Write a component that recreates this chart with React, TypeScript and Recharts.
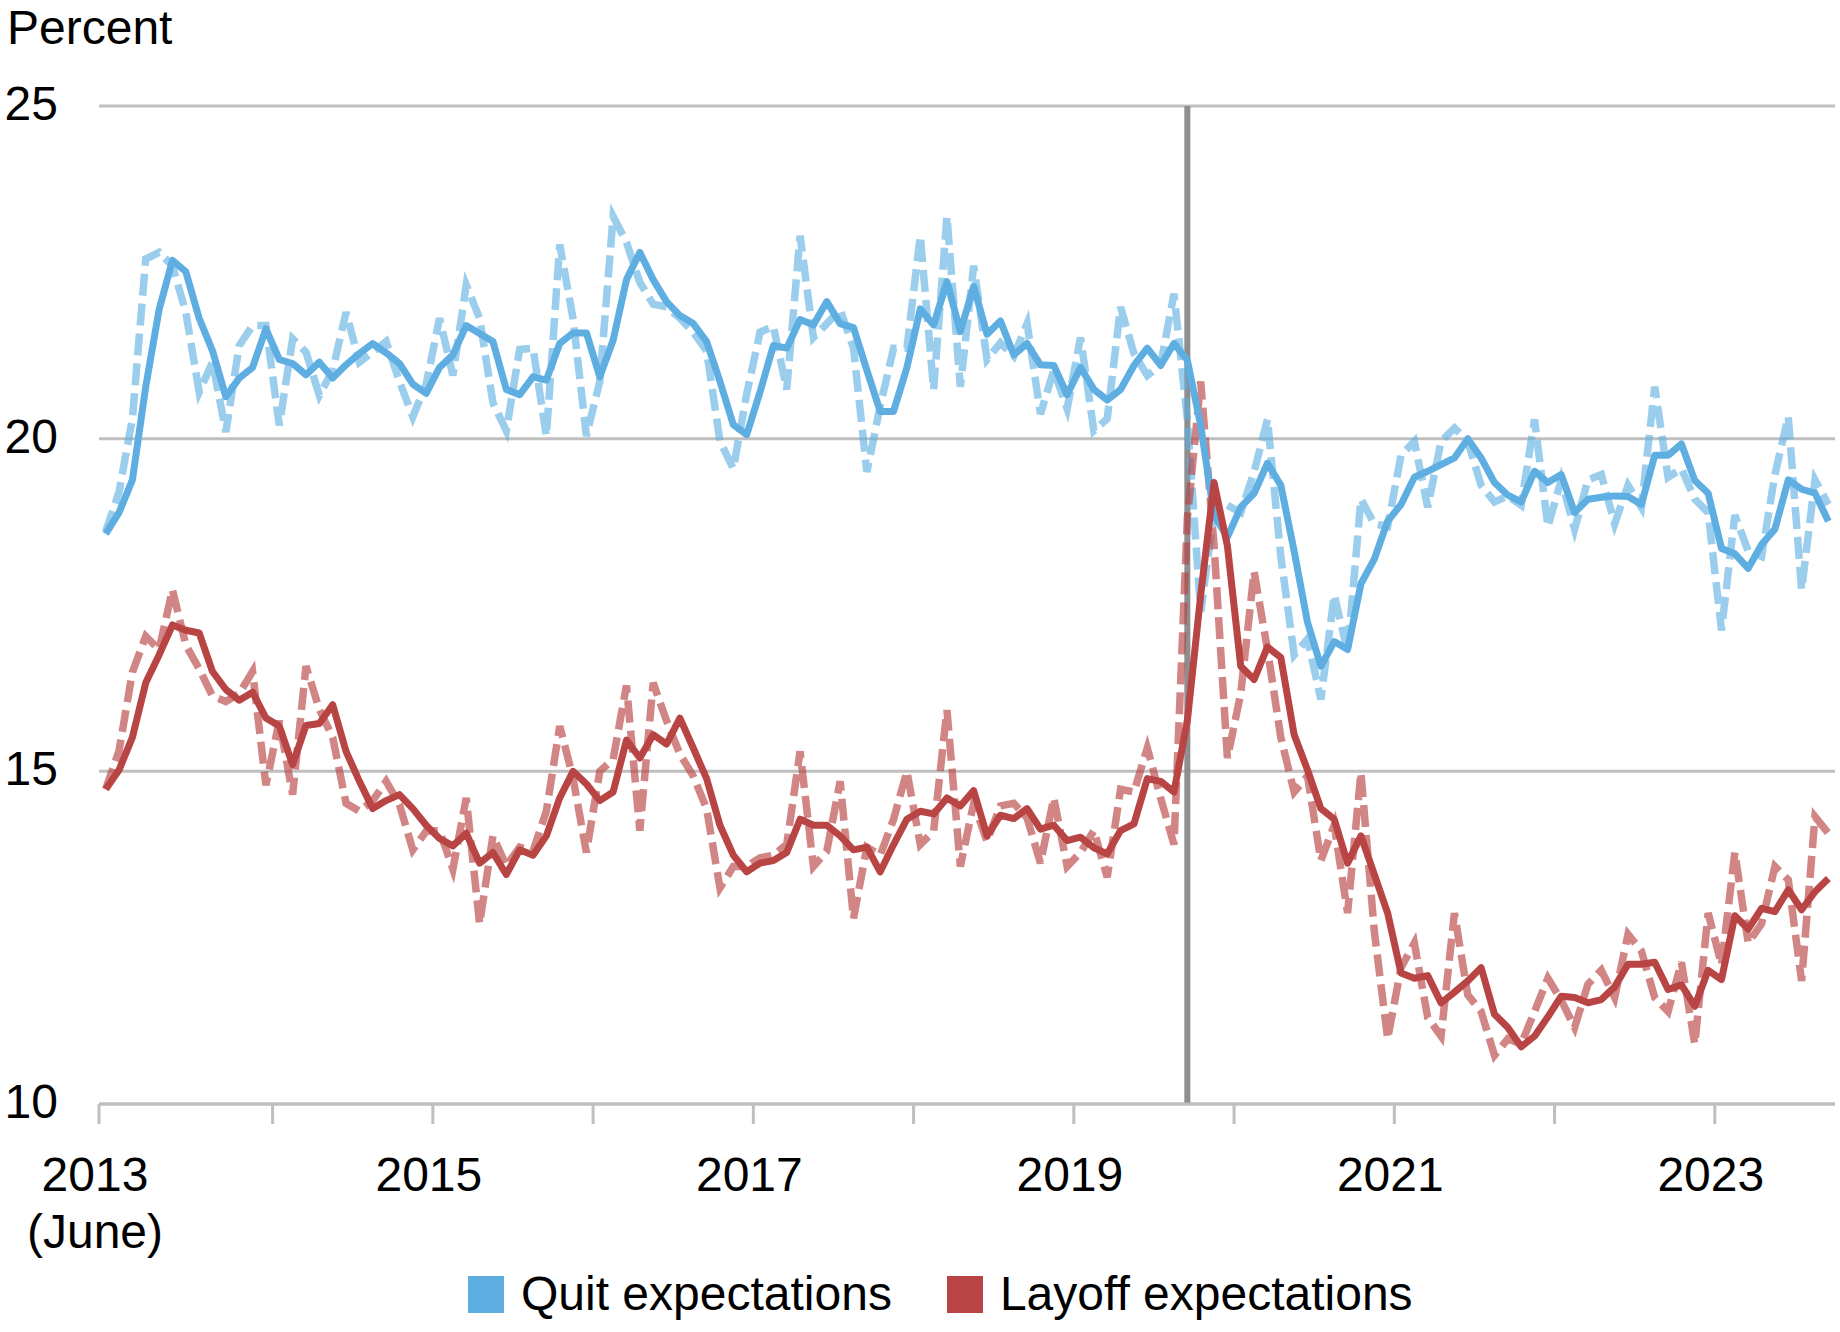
import React from "react";
import { LineChart, Line, XAxis, YAxis, CartesianGrid, ReferenceLine } from "recharts";

// monthly readings, June 2013 onwards (dashed)
const quitMonthly = [
  18.6, 19.2, 20.3, 22.7, 22.8, 22.6, 21.9, 20.7, 21.15, 20.1,
  21.4, 21.7, 21.7, 20.2, 21.5, 21.3, 20.65, 21.03, 21.9, 21.15,
  21.3, 21.46, 20.86, 20.33, 20.82, 21.81, 20.95, 22.31, 21.81, 20.54,
  20.12, 21.34, 21.36, 20.04, 22.92, 21.8, 20.04, 20.86, 23.34, 22.95,
  22.35, 22.02, 21.98, 21.81, 21.6, 21.32, 19.96, 19.55, 20.67, 21.6,
  21.69, 20.74, 23.05, 21.52, 21.73, 21.94, 21.36, 19.5, 20.49, 21.36,
  21.36, 23.05, 20.74, 23.34, 20.78, 22.6, 21.19, 21.44, 21.24, 21.73,
  20.37, 21.03, 20.45, 21.52, 20.12, 20.3, 21.98, 21.28, 20.95, 21.11,
  22.18, 20.29, 17.4, 18.9, 19.0, 18.89, 19.5, 20.29, 18.23, 16.75,
  16.99, 16.08, 17.65, 16.8, 19.09, 18.72, 18.68, 19.75, 19.96, 18.97,
  19.96, 20.16, 19.96, 19.3, 19.05, 19.14, 19.0, 20.29, 18.68, 19.38,
  18.64, 19.38, 19.46, 18.72, 19.3, 18.97, 20.78, 19.42, 19.55, 19.09,
  18.89, 17.12, 18.85, 18.31, 18.23, 19.46, 20.33, 17.73, 19.38, 19.01,
];

// three-month average (solid)
const quitAvg = [
  18.57, 18.89, 19.38, 20.78, 21.94, 22.68, 22.51, 21.81, 21.32, 20.63,
  20.91, 21.07, 21.65, 21.19, 21.13, 20.96, 21.15, 20.91, 21.11, 21.28,
  21.43, 21.29, 21.13, 20.82, 20.68, 21.07, 21.26, 21.7, 21.58, 21.46,
  20.74, 20.66, 20.93, 20.88, 21.43, 21.59, 21.59, 20.93, 21.48, 22.39,
  22.8, 22.39, 22.06, 21.85, 21.73, 21.46, 20.86, 20.21, 20.06, 20.7,
  21.4, 21.36, 21.79, 21.71, 22.06, 21.73, 21.67, 21.03, 20.41, 20.41,
  21.07, 21.95, 21.71, 22.36, 21.61, 22.29, 21.57, 21.77, 21.26, 21.43,
  21.11, 21.1, 20.66, 21.07, 20.74, 20.58, 20.74, 21.1, 21.36, 21.1,
  21.43, 21.18, 20.2, 18.85, 18.52, 18.97, 19.18, 19.63, 19.3, 18.31,
  17.24, 16.58, 16.95, 16.83, 17.82, 18.19, 18.76, 19.01, 19.42, 19.51,
  19.61, 19.71, 20.0, 19.71, 19.34, 19.15, 19.05, 19.51, 19.34, 19.46,
  18.89, 19.09, 19.12, 19.14, 19.13, 19.01, 19.75, 19.75, 19.92, 19.37,
  19.18, 18.35, 18.27, 18.05, 18.41, 18.64, 19.38, 19.24, 19.18, 18.76,
];

const layoffMonthly = [
  14.73, 15.31, 16.49, 17.03, 16.83, 17.73, 16.9, 16.54, 16.13, 16.05,
  16.17, 16.5, 14.79, 15.76, 14.65, 16.58, 15.93, 15.51, 14.52, 14.4,
  14.56, 14.85, 14.5, 13.82, 14.1, 14.11, 13.53, 14.6, 12.71, 14.03,
  13.58, 13.86, 13.8, 14.4, 15.68, 14.9, 13.78, 15.0, 15.18, 16.29,
  14.11, 16.33, 15.76, 15.26, 14.93, 14.44, 13.25, 13.57, 13.57, 13.7,
  13.74, 13.9, 15.3, 13.57, 13.8, 14.85, 12.79, 13.86, 13.74, 14.28,
  15.0, 13.9, 14.1, 15.92, 13.57, 14.52, 13.95, 14.48, 14.52, 14.3,
  13.62, 14.6, 13.57, 13.78, 14.11, 13.41, 14.73, 14.69, 15.35, 14.6,
  13.9, 18.8, 20.86, 18.4, 15.2, 16.17, 18.0, 16.83, 15.51, 14.69,
  14.93, 13.66, 14.19, 12.87, 14.98, 12.6, 10.98, 12.05, 12.42, 11.3,
  11.02, 12.87, 11.64, 11.39, 10.73, 10.98, 10.9, 11.39, 11.89, 11.56,
  11.15, 11.8, 12.01, 11.6, 12.55, 12.3, 11.6, 11.39, 12.13, 10.9,
  12.87, 12.09, 13.78, 12.42, 12.71, 13.57, 13.37, 11.85, 14.32, 14.07,
];

const layoffAvg = [
  14.73, 15.02, 15.51, 16.33, 16.75, 17.2, 17.12, 17.08, 16.5, 16.23,
  16.07, 16.19, 15.8, 15.68, 15.1, 15.69, 15.72, 16.0, 15.3, 14.85,
  14.44, 14.56, 14.65, 14.44, 14.19, 13.99, 13.88, 14.07, 13.62, 13.78,
  13.45, 13.82, 13.74, 14.03, 14.6, 15.0, 14.81, 14.56, 14.69, 15.47,
  15.2, 15.55, 15.41, 15.8, 15.35, 14.89, 14.19, 13.74, 13.49, 13.62,
  13.66, 13.78, 14.28, 14.19, 14.19, 14.03, 13.82, 13.86, 13.49, 13.9,
  14.28, 14.4, 14.36, 14.6, 14.48, 14.71, 14.03, 14.34, 14.29, 14.44,
  14.13, 14.19, 13.96, 14.01, 13.85, 13.76, 14.11, 14.21, 14.89, 14.85,
  14.69, 15.76, 17.65, 19.34, 18.39, 16.58, 16.38, 16.87, 16.71, 15.55,
  15.02, 14.44, 14.28, 13.62, 14.03, 13.45, 12.87, 11.97, 11.89, 11.93,
  11.52, 11.68, 11.85, 12.05, 11.35, 11.15, 10.86, 11.02, 11.31, 11.62,
  11.6, 11.52, 11.57, 11.76, 12.1, 12.1, 12.13, 11.72, 11.79, 11.47,
  12.01, 11.87, 12.83, 12.63, 12.94, 12.89, 13.22, 12.92, 13.19, 13.39,
];

const xTicks = [0, 13, 25, 37, 49, 61, 73, 85, 97, 109, 121];
const xTickLabels = ["2013", "", "2015", "", "2017", "", "2019", "", "2021", "", "2023"];
const yTicks = [10, 15, 20, 25];
const covidMonth = 81; // March 2020

const seriesNames = ["Quit expectations", "Layoff expectations"];

const FONT = "'Liberation Sans', Arial, Helvetica, sans-serif";
const BLUE = "#5EAEE2";
const RED = "#B94444";
const GRID = "#BFBFBF";

const data = quitAvg.map((v, i) => ({
  pos: i + 0.5,
  quitAvg: v,
  quitMonthly: quitMonthly[i],
  layoffAvg: layoffAvg[i],
  layoffMonthly: layoffMonthly[i],
}));

function XTick(props: any) {
  const { x, y, payload } = props;
  const idx = xTicks.indexOf(payload.value);
  const label = xTickLabels[idx];
  if (!label) return null;
  return (
    <g>
      <text x={x - 4} y={y + 67} textAnchor="middle" fontSize={48} fontFamily={FONT} fill="#000">
        {label}
      </text>
      {idx === 0 && (
        <text x={x - 4} y={y + 124} textAnchor="middle" fontSize={48} fontFamily={FONT} fill="#000">
          (June)
        </text>
      )}
    </g>
  );
}

function YTick(props: any) {
  const { x, y, payload } = props;
  return (
    <text x={x} y={y + 14} textAnchor="end" fontSize={48} fontFamily={FONT} fill="#000">
      {payload.value}
    </text>
  );
}

export default function App() {
  return (
    <div style={{ position: "absolute", left: 0, top: 0, width: 1840, height: 1332, background: "#fff", fontFamily: FONT }}>
      <div style={{ position: "absolute", left: 7, top: 2, fontSize: 48, lineHeight: 1.1, color: "#000" }}>
        Percent
      </div>
      <LineChart
        width={1840}
        height={1332}
        data={data}
        margin={{ top: 106, right: 5, bottom: 108, left: 0 }}
      >
        <CartesianGrid horizontal vertical={false} stroke={GRID} strokeWidth={3} />
        <XAxis
          dataKey="pos"
          type="number"
          domain={[0, 130]}
          ticks={xTicks}
          interval={0}
          height={120}
          axisLine={{ stroke: GRID, strokeWidth: 3 }}
          tickLine={{ stroke: GRID, strokeWidth: 3 }}
          tickSize={20}
          tickMargin={0}
          tick={<XTick />}
        />
        <YAxis
          type="number"
          domain={[10, 25]}
          ticks={yTicks}
          width={99}
          axisLine={false}
          tickLine={false}
          tickSize={0}
          tickMargin={41}
          tick={<YTick />}
        />
        <ReferenceLine x={covidMonth + 0.5} stroke="#8E8E8E" strokeWidth={6} />
        <Line
          type="linear"
          dataKey="quitMonthly"
          stroke={BLUE}
          strokeOpacity={0.62}
          strokeWidth={7.5}
          strokeDasharray="22 8"
          dot={false}
          isAnimationActive={false}
        />
        <Line
          type="linear"
          dataKey="layoffMonthly"
          stroke={RED}
          strokeOpacity={0.65}
          strokeWidth={7.5}
          strokeDasharray="22 8"
          dot={false}
          isAnimationActive={false}
        />
        <Line
          type="linear"
          dataKey="quitAvg"
          stroke={BLUE}
          strokeWidth={7}
          strokeLinejoin="round"
          dot={false}
          isAnimationActive={false}
        />
        <Line
          type="linear"
          dataKey="layoffAvg"
          stroke={RED}
          strokeWidth={7}
          strokeLinejoin="round"
          dot={false}
          isAnimationActive={false}
        />
      </LineChart>
      <div
        style={{
          position: "absolute",
          left: 468,
          top: 1270,
          display: "flex",
          alignItems: "center",
          fontSize: 48,
          lineHeight: 1,
          color: "#000",
          whiteSpace: "nowrap",
        }}
      >
        {seriesNames.map((name, i) => (
          <div key={name} style={{ display: "flex", alignItems: "center", marginRight: i === 0 ? 55 : 0 }}>
            <span style={{ display: "inline-block", width: 36, height: 37, background: i === 0 ? BLUE : RED, marginRight: 17 }} />
            <span>{name}</span>
          </div>
        ))}
      </div>
    </div>
  );
}
